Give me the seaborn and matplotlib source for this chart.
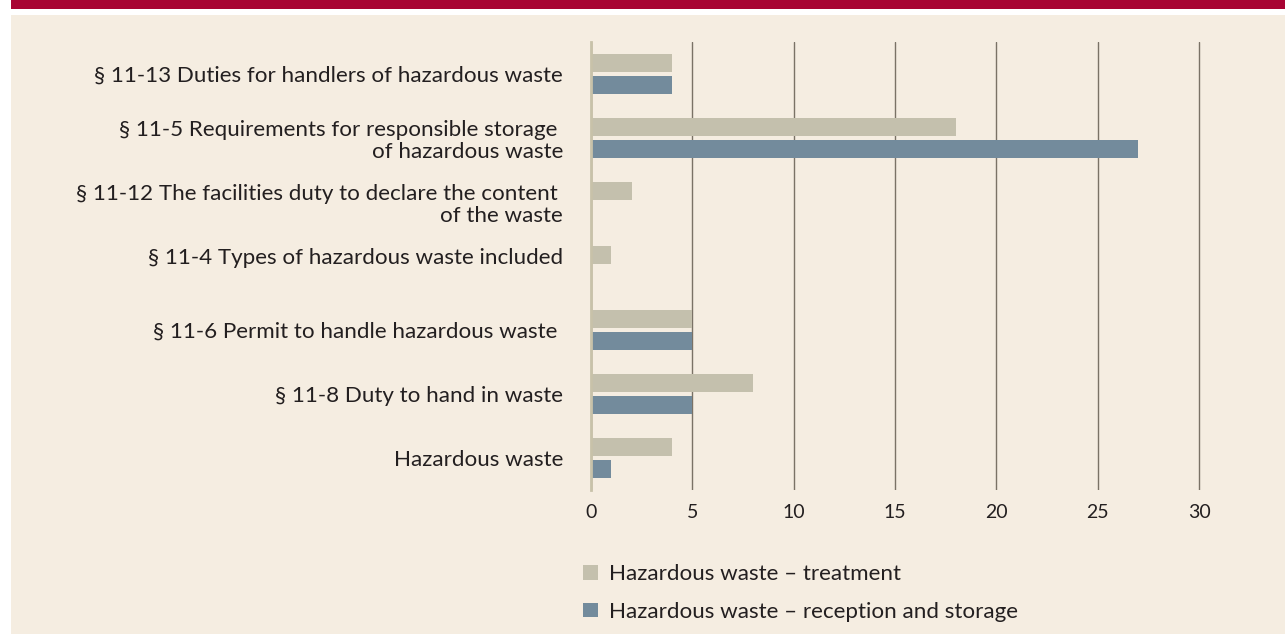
import pandas as pd
import numpy as np
import matplotlib.pyplot as plt
import seaborn as sns
from matplotlib.patches import Rectangle

# Data
sections = [
    "§ 11-13 Duties for handlers of hazardous waste",
    "§ 11-5 Requirements for responsible storage \nof hazardous waste",
    "§ 11-12 The facilities duty to declare the content \nof the waste",
    "§ 11-4 Types of hazardous waste included\n",
    "§ 11-6 Permit to handle hazardous waste ",
    "§ 11-8 Duty to hand in waste",
    "Hazardous waste",
]
series_names = ["Hazardous waste – treatment", "Hazardous waste – reception and storage"]
treatment = [4, 18, 2, 1, 5, 8, 4]
reception = [4, 27, 0, 0, 5, 5, 1]
x_ticks = [0, 5, 10, 15, 20, 25, 30]

RED = "#A80433"
BEIGE = "#F5EDE1"
TAN = "#C8C2A9"
BLUE = "#6C8CA3"
GRID = "#7A7266"
TEXT = "#231F20"

df = pd.DataFrame({
    "section": sections * 2,
    "series": [series_names[0]] * len(sections) + [series_names[1]] * len(sections),
    "count": treatment + reception,
})

sns.set_theme(style="white")
plt.rcParams["font.family"] = ["Lato", "DejaVu Sans"]
plt.rcParams["text.color"] = TEXT

W, H = 1285, 634
fig = plt.figure(figsize=(W / 100, H / 100), dpi=100, facecolor="white")

# header band + beige panel
fig.patches.append(Rectangle((11 / W, 1 - 9 / H), 1, 9 / H, transform=fig.transFigure,
                             facecolor=RED, edgecolor="none", zorder=-2))
fig.patches.append(Rectangle((11 / W, 0), 1, 1 - 15 / H, transform=fig.transFigure,
                             facecolor=BEIGE, edgecolor="none", zorder=-2))

px_unit = 20.27
ax = fig.add_axes([591 / W, 1 - 490 / H, 31 * px_unit / W, 448 / H])
ax.set_facecolor("none")

sns.barplot(data=df, y="section", x="count", hue="series", orient="h",
            palette=[TAN, BLUE], width=0.676, gap=0.19, linewidth=0,
            ax=ax, legend=True)

ax.set_xlim(0, 31)
ax.set_ylim(6.5, -0.5)
ax.set_xticks(x_ticks)
ax.set_xlabel("")
ax.set_ylabel("")
ax.xaxis.grid(True, color=GRID, lw=1)
ax.yaxis.grid(False)
ax.set_axisbelow(True)
for s in ["top", "right", "bottom"]:
    ax.spines[s].set_visible(False)
ax.spines["left"].set_color(TAN)
ax.spines["left"].set_linewidth(2)
ax.tick_params(axis="y", length=0, pad=20, labelsize=16.1, labelcolor=TEXT)
ax.tick_params(axis="x", length=0, pad=10, labelsize=14, labelcolor=TEXT)
for lbl in ax.get_yticklabels():
    lbl.set_linespacing(1.1)

handles, labels = ax.get_legend_handles_labels()
ax.get_legend().remove()
fig.legend(handles, labels, loc="upper left", bbox_to_anchor=(583 / W, 1 - 564 / H),
           frameon=False, fontsize=16.1, handlelength=0.65, handleheight=0.65,
           handletextpad=0.5, labelspacing=0.8, borderaxespad=0, borderpad=0)

fig.savefig("out.png", dpi=100, facecolor="white")
